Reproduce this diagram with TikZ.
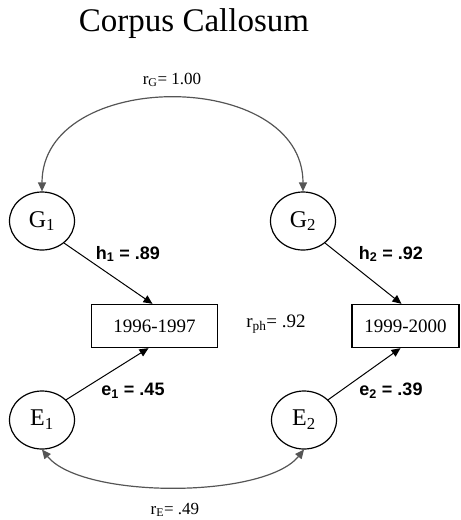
\documentclass[tikz,border=0pt]{standalone}
\usepackage{fontspec}
\setmainfont{Liberation Serif}
\newfontfamily\arialfont{Liberation Sans}
\usetikzlibrary{shapes.geometric,arrows.meta}
\definecolor{arcgray}{HTML}{555555}
\tikzset{
  latent/.style={ellipse, draw, line width=1.2pt, minimum width=65pt, minimum height=58pt, inner sep=0pt, font=\fontsize{24}{28}\selectfont},
  obsbox/.style={rectangle, draw, line width=1.3pt, minimum height=43pt, inner sep=0pt, font=\fontsize{19}{22}\selectfont},
  path/.style={line width=1pt, -{Triangle[length=9pt,width=8pt]}},
  corr/.style={line width=1.2pt, draw=arcgray, {Triangle[length=9pt,width=8pt]}-{Triangle[length=9pt,width=8pt]}, arcgray},
  coef/.style={font=\arialfont\bfseries\fontsize{18}{21}\selectfont},
  rlab/.style={font=\fontsize{17}{20}\selectfont}
}
\begin{document}
\begin{tikzpicture}[x=1pt,y=-1pt]
\useasboundingbox (0,0) rectangle (461,520);
\node (title) at (194,24) {\fontsize{33}{40}\selectfont Corpus Callosum};
\node[latent] (G1) at (42,221) {G\textsubscript{1}};
\node[latent] (G2) at (303,221) {G\textsubscript{2}};
\node[latent] (E1) at (42,420) {E\textsubscript{1}};
\node[latent] (E2) at (304,420) {E\textsubscript{2}};
\node[obsbox, minimum width=126pt] (B1) at (154.5,326) {1996-1997};
\node[obsbox, minimum width=107pt] (B2) at (405.5,326) {1999-2000};
\draw[path] (G1.-45) -- ([xshift=-2pt]B1.north);
\draw[path] (G2.-45) -- ([xshift=-4pt]B2.north);
\draw[path] (E1.40) -- ([xshift=-6pt]B1.south);
\draw[path] (E2.40) -- ([xshift=-5pt]B2.south);
\draw[corr] (G1.north) .. controls (42,68) and (303,68) .. (G2.north);
\draw[corr] (E1.south) .. controls (82,499) and (264,499) .. (E2.south);
\node[rlab] (rG) at (172,80) {r\textsubscript{G}= 1.00};
\node[coef] (h1) at (128,254) {h\textsubscript{1} = .89};
\node[coef] (h2) at (391,254) {h\textsubscript{2} = .92};
\node[coef] (e1) at (133,391) {e\textsubscript{1} = .45};
\node[coef] (e2) at (391,391) {e\textsubscript{2} = .39};
\node[rlab, font=\fontsize{19}{22}\selectfont] (rph) at (276,324) {r\textsubscript{ph}= .92};
\node[rlab] (rE) at (175,510) {r\textsubscript{E}= .49};
\end{tikzpicture}
\end{document}
